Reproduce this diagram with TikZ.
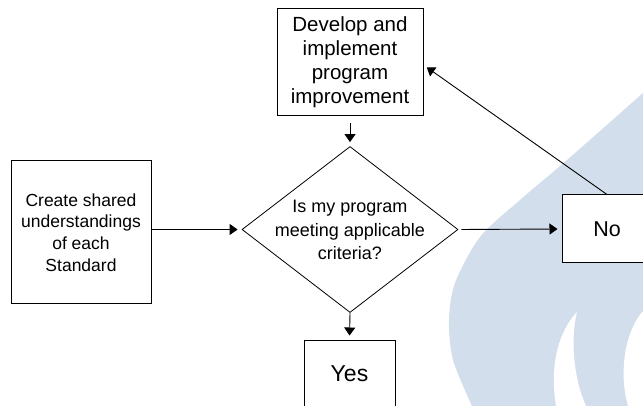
\documentclass[tikz,border=0pt]{standalone}
\usepackage{fontspec}
\setmainfont{Liberation Sans}
\usetikzlibrary{arrows.meta,shapes.geometric,calc}
\definecolor{wm}{RGB}{211,222,236}
\begin{document}
\begin{tikzpicture}[x=1pt,y=-1pt,
  box/.style={draw=black,fill=white,line width=1pt,align=center,inner sep=0pt},
  conn/.style={draw=black,line width=0.9pt,-{Triangle[length=8pt,width=11pt]}},
]
\useasboundingbox (0,0) rectangle (643,406);
\clip (0,0) rectangle (643,406);
% watermark
\fill[wm] plot[smooth] coordinates {(643,93) (567,160) (520,200) (480,237) (455,283) (449,320) (453,360) (472,406)} -- (643,406) -- cycle;
\fill[white] (577,312) .. controls (560,330) and (549,362) .. (556,406) -- (586,406) .. controls (574,380) and (570,340) .. (577,312) -- cycle;
\fill[white] (643,311) .. controls (626,330) and (618,370) .. (628,406) -- (643,406) -- cycle;
% nodes
\node[box,minimum width=146pt,minimum height=107pt,font=\fontsize{20.5}{24}\selectfont] (dev) at (350,62.5) {Develop and\\implement\\program\\improvement};
\node[box,minimum width=140pt,minimum height=143pt,font=\fontsize{17.5}{21.7}\selectfont] (cre) at (81,232.5) {Create shared\\understandings\\of each\\Standard};
\node[diamond,draw=black,fill=white,line width=0.8pt,inner sep=0pt,minimum width=216pt,minimum height=166pt] (dec) at (350,229.5) {};
\node[align=center,inner sep=0pt,font=\fontsize{18}{23.5}\selectfont] (dectext) at (350,230) {Is my program\\meeting applicable\\criteria?};
\node[box,minimum width=91pt,minimum height=68pt,font=\fontsize{23}{27}\selectfont] (yes) at (349.5,374) {Yes};
\node[box,minimum width=90pt,minimum height=68pt,font=\fontsize{21.5}{25}\selectfont] (no) at (607,229) {No};
% connectors
\draw[conn,shorten <=7pt,shorten >=4pt] (dev.south) -- (dec.north);
\draw[conn,shorten >=4pt] (cre.east |- dec.west) -- (dec.west);
\draw[conn,shorten >=4pt] (dec.south) -- (yes.north);
\draw[conn,shorten <=3pt,shorten >=4pt] (dec.east) -- (no.west);
\draw[conn,shorten >=4pt] (no.north) -- ([yshift=-2.5pt]dev.east);
\end{tikzpicture}
\end{document}
